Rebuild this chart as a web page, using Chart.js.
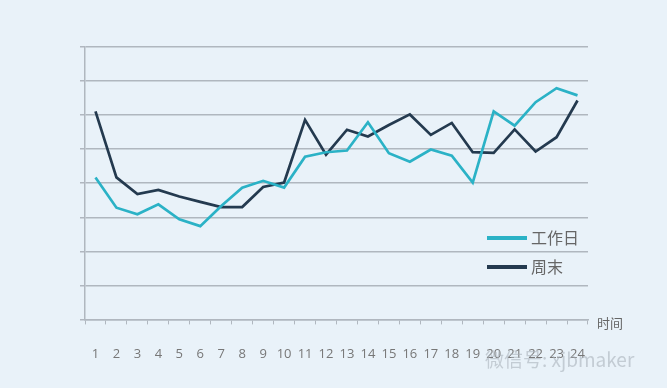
<!DOCTYPE html>
<html>
<head>
<meta charset="utf-8">
<script src="https://cdn.jsdelivr.net/npm/chart.js@4"></script>
<style>
  html, body { margin: 0; padding: 0; background: #e9f2f9; }
  #wrap { width: 667px; height: 388px; }
</style>
</head>
<body>
<div id="wrap"><canvas id="hours"></canvas></div>
<script>
const hours = ['1','2','3','4','5','6','7','8','9','10','11','12','13','14','15','16','17','18','19','20','21','22','23','24'];
const workday = [4.17, 3.28, 3.09, 3.38, 2.94, 2.74, 3.33, 3.87, 4.07, 3.87, 4.78, 4.91, 4.96, 5.79, 4.88, 4.63, 4.99, 4.81, 4.02, 6.11, 5.69, 6.38, 6.79, 6.58];
const weekend = [6.11, 4.17, 3.68, 3.80, 3.61, 3.45, 3.30, 3.30, 3.89, 4.02, 5.86, 4.84, 5.57, 5.37, 5.71, 6.02, 5.42, 5.77, 4.91, 4.89, 5.58, 4.93, 5.35, 6.43];

// legend drawn inside the plot, plus the "时间" axis caption
const extras = {
    id: 'extras',
    beforeDraw(chart) {
        const c = chart.ctx;
        c.save();
        c.fillStyle = '#e9f2f9';
        c.fillRect(0, 0, chart.width, chart.height);
        c.restore();
    },
    afterDraw(chart) {
        const c = chart.ctx;
        const a = chart.chartArea;
        c.save();
        c.font = '16px "Noto Sans CJK SC"';
        c.textBaseline = 'middle';
        chart.data.datasets.forEach((ds, i) => {
            const y = 238 + i * 29;
            c.strokeStyle = ds.borderColor;
            c.lineWidth = 4;
            c.beginPath();
            c.moveTo(487, y);
            c.lineTo(527, y);
            c.stroke();
            c.fillStyle = '#666';
            c.fillText(ds.label, 531, y);
        });
        c.font = '13px "Noto Sans CJK SC"';
        c.fillStyle = '#666';
        c.fillText('时间', a.right + 9, a.bottom + 4);
        c.font = '19px "Noto Sans CJK SC"';
        c.fillStyle = 'rgba(170,178,186,0.6)';
        c.fillText('微信号: xjbmaker', 485, 360);
        c.restore();
    }
};

new Chart(document.getElementById('hours'), {
    type: 'line',
    data: {
        labels: hours,
        datasets: [{
            label: '工作日',
            data: workday,
            borderColor: '#2bb2c6',
            borderWidth: 2.7,
            pointRadius: 0,
            tension: 0
        }, {
            label: '周末',
            data: weekend,
            borderColor: '#243a4f',
            borderWidth: 2.7,
            pointRadius: 0,
            tension: 0
        }]
    },
    options: {
        responsive: true,
        maintainAspectRatio: false,
        animation: false,
        layout: {
            padding: { top: 47, right: 79, bottom: 4, left: 0 }
        },
        plugins: {
            legend: { display: false },
            tooltip: { enabled: false }
        },
        scales: {
            x: {
                offset: true,
                grid: {
                    offset: true,
                    drawOnChartArea: false,
                    tickLength: 5,
                    color: '#b0b7bf'
                },
                border: { color: '#b0b7bf', width: 1.5 },
                ticks: {
                    color: '#777',
                    padding: 22,
                    maxRotation: 0,
                    autoSkip: false,
                    font: { family: '"Open Sans"', size: 13 }
                }
            },
            y: {
                min: 0,
                max: 8,
                afterFit(axis) { axis.width = 85; },
                grid: {
                    color: '#b0b7bf',
                    lineWidth: 1.5,
                    tickLength: 5
                },
                border: { color: '#b0b7bf', width: 1.5 },
                ticks: {
                    stepSize: 1,
                    callback: () => ''
                }
            }
        }
    },
    plugins: [extras]
});
</script>
</body>
</html>
